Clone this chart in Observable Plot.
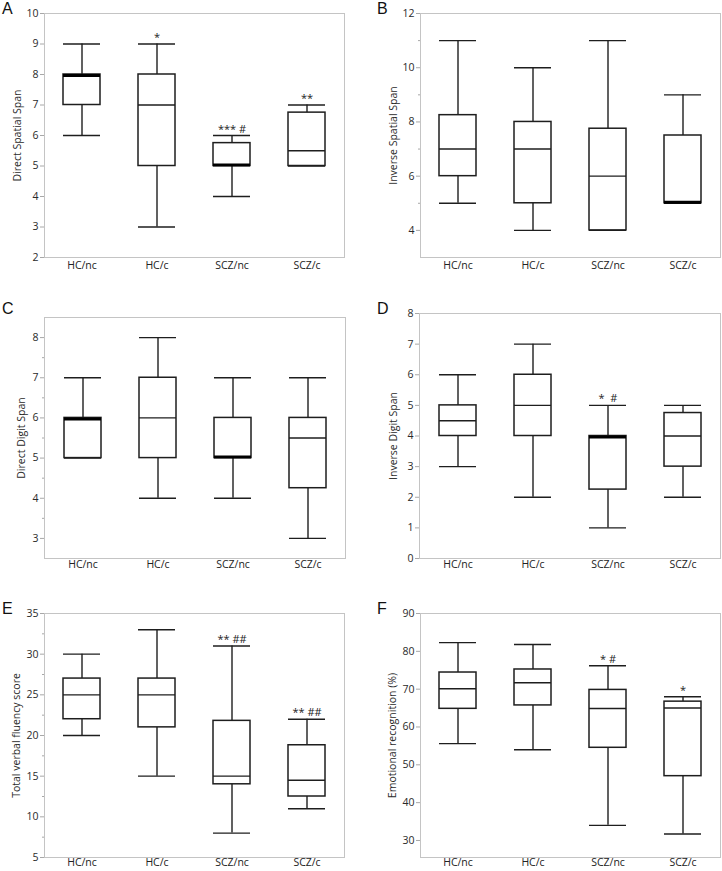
<!DOCTYPE html>
<html>
<head>
<meta charset="utf-8">
<script src="https://cdn.jsdelivr.net/npm/d3@7"></script>
<script src="https://cdn.jsdelivr.net/npm/@observablehq/plot@0.6"></script>
<style>
  html, body { margin: 0; padding: 0; background: white; }
  #fig { position: relative; width: 722px; height: 871px; background: white; overflow: hidden; }
  .panel { position: absolute; }
  .letter { position: absolute; font-family: "Liberation Sans", Arial, sans-serif; font-size: 16px; line-height: 1; color: #111; }
</style>
</head>
<body>
<div id="fig"></div>
<script>
// Groups (x categories)
const groups = ["HC/nc", "HC/c", "SCZ/nc", "SCZ/c"];

// Five-number summaries per group: [min, q1, median, q3, max]
const directSpatial = [[6, 7, 8, 8, 9], [3, 5, 7, 8, 9], [4, 5, 5, 5.75, 6], [5, 5, 5.5, 6.75, 7]];
const directSpatialNotes = ["", "*", "*** #", "**"];
const directSpatialTicks = [2, 3, 4, 5, 6, 7, 8, 9, 10];

const inverseSpatial = [[5, 6, 7, 8.25, 11], [4, 5, 7, 8, 10], [4, 4, 6, 7.75, 11], [5, 5, 5, 7.5, 9]];
const inverseSpatialNotes = ["", "", "", ""];
const inverseSpatialTicks = [4, 6, 8, 10, 12];
const inverseSpatialMinor = [5, 7, 9, 11];

const directDigit = [[5, 5, 6, 6, 7], [4, 5, 6, 7, 8], [4, 5, 5, 6, 7], [3, 4.25, 5.5, 6, 7]];
const directDigitNotes = ["", "", "", ""];
const directDigitTicks = [3, 4, 5, 6, 7, 8];
const directDigitMinor = [3.5, 4.5, 5.5, 6.5, 7.5];

const inverseDigit = [[3, 4, 4.5, 5, 6], [2, 4, 5, 6, 7], [1, 2.25, 4, 4, 5], [2, 3, 4, 4.75, 5]];
const inverseDigitNotes = ["", "", "*  #", ""];
const inverseDigitTicks = [0, 1, 2, 3, 4, 5, 6, 7, 8];

const verbalFluency = [[20, 22, 25, 27, 30], [15, 21, 25, 27, 33], [8, 14, 15, 21.8, 31], [11, 12.5, 14.5, 18.8, 22]];
const verbalFluencyNotes = ["", "", "** ##", "** ##"];
const verbalFluencyTicks = [5, 10, 15, 20, 25, 30, 35];
const verbalFluencyMinor = [7.5, 12.5, 17.5, 22.5, 27.5, 32.5];

const emotionRecog = [[55.6, 64.8, 70.1, 74.4, 82.3], [54, 65.7, 71.7, 75.2, 81.8], [34, 54.5, 64.9, 69.8, 76.2], [31.7, 47, 65, 66.7, 68]];
const emotionRecogNotes = ["", "", "* #", "*"];
const emotionRecogTicks = [30, 40, 50, 60, 70, 80, 90];

const INK = "#1e1e1e";
const AXIS = "#a8a8a8";

function panel(cfg) {
  const rows = groups.map((g, i) => ({
    g, min: cfg.data[i][0], q1: cfg.data[i][1], med: cfg.data[i][2], q3: cfg.data[i][3], max: cfg.data[i][4], note: cfg.notes[i]
  }));
  const medNormal = rows.filter(d => d.med !== d.q1 && d.med !== d.q3);
  const medLow = rows.filter(d => d.med === d.q1);
  const medHigh = rows.filter(d => d.med === d.q3 && d.med !== d.q1);
  const inset = 19;
  const marks = [
    Plot.frame({stroke: "#c4c4c4"})
  ];
  if (cfg.minor) marks.push(Plot.axisY({ticks: cfg.minor, tickSize: 2, text: null, stroke: AXIS, label: null}));
  marks.push(
    Plot.axisY({ticks: cfg.ticks, tickSize: 4, tickPadding: 2, stroke: AXIS, fill: "#2a2a2a", tickFormat: d => String(d),
      label: cfg.label, labelAnchor: "center", labelArrow: "none", labelOffset: cfg.labelOffset}),
    Plot.axisX({tickSize: 0, tickPadding: cfg.xpad, label: null, fill: "#222"}),
    Plot.ruleX(rows, {x: "g", y1: "q3", y2: "max", stroke: INK, strokeWidth: 1.4}),
    Plot.ruleX(rows, {x: "g", y1: "min", y2: "q1", stroke: INK, strokeWidth: 1.4}),
    Plot.tickY(rows, {x: "g", y: "max", insetLeft: inset, insetRight: inset, stroke: INK, strokeWidth: 1.4}),
    Plot.tickY(rows, {x: "g", y: "min", insetLeft: inset, insetRight: inset, stroke: INK, strokeWidth: 1.4}),
    Plot.barY(rows, {x: "g", y1: "q1", y2: "q3", insetLeft: inset, insetRight: inset, fill: "white", stroke: INK, strokeWidth: 1.5}),
    Plot.tickY(medNormal, {x: "g", y: "med", insetLeft: inset, insetRight: inset, stroke: INK, strokeWidth: 1.4}),
    Plot.tickY(medLow, {x: "g", y: "med", dy: -1, insetLeft: inset, insetRight: inset, stroke: "#000", strokeWidth: 3}),
    Plot.tickY(medHigh, {x: "g", y: "med", dy: 1, insetLeft: inset, insetRight: inset, stroke: "#000", strokeWidth: 3}),
    Plot.text(rows.filter(d => d.note), {x: "g", y: "max", text: "note", lineAnchor: "bottom", dy: -3, fontSize: 11, fill: "#222"})
  );
  return Plot.plot({
    width: cfg.width, height: cfg.height,
    marginTop: cfg.mt, marginBottom: cfg.mb, marginLeft: cfg.ml, marginRight: cfg.mr,
    style: {fontFamily: "'Open Sans', 'Noto Sans', sans-serif", fontSize: "10.5px", background: "white", overflow: "visible", color: "#222"},
    x: {domain: groups, padding: 0},
    y: {domain: cfg.domain},
    marks
  });
}

const panels = [
  {letter: "A", left: 0, top: 0, width: 361, height: 285, mt: 13, mb: 28, ml: 44, mr: 17, labelOffset: 31, xpad: 4,
   data: directSpatial, notes: directSpatialNotes, ticks: directSpatialTicks, domain: [2, 10], label: "Direct Spatial Span", lx: 2, ly: 1},
  {letter: "B", left: 361, top: 0, width: 361, height: 285, mt: 13, mb: 28, ml: 59, mr: 2, labelOffset: 31, xpad: 4,
   data: inverseSpatial, notes: inverseSpatialNotes, ticks: inverseSpatialTicks, minor: inverseSpatialMinor, domain: [3, 12], label: "Inverse Spatial Span", lx: 377, ly: 1},
  {letter: "C", left: 0, top: 285, width: 361, height: 290, mt: 32, mb: 17, ml: 44, mr: 16, labelOffset: 27, xpad: 2,
   data: directDigit, notes: directDigitNotes, ticks: directDigitTicks, minor: directDigitMinor, domain: [2.5, 8.5], label: "Direct Digit Span", lx: 2, ly: 301},
  {letter: "D", left: 361, top: 285, width: 361, height: 290, mt: 28, mb: 17, ml: 58, mr: 2, labelOffset: 30, xpad: 2,
   data: inverseDigit, notes: inverseDigitNotes, ticks: inverseDigitTicks, domain: [0, 8], label: "Inverse Digit Span", lx: 377, ly: 301},
  {letter: "E", left: 0, top: 575, width: 361, height: 296, mt: 38, mb: 14, ml: 44, mr: 17, labelOffset: 32, xpad: 1,
   data: verbalFluency, notes: verbalFluencyNotes, ticks: verbalFluencyTicks, minor: verbalFluencyMinor, domain: [5, 35], label: "Total verbal fluency score", lx: 2, ly: 601},
  {letter: "F", left: 361, top: 575, width: 361, height: 296, mt: 38, mb: 14, ml: 59, mr: 2, labelOffset: 32, xpad: 1,
   data: emotionRecog, notes: emotionRecogNotes, ticks: emotionRecogTicks, domain: [25.5, 90], label: "Emotional recognition (%)", lx: 377, ly: 601}
];

const fig = document.getElementById("fig");
for (const p of panels) {
  const div = document.createElement("div");
  div.className = "panel";
  div.style.left = p.left + "px";
  div.style.top = p.top + "px";
  div.appendChild(panel(p));
  fig.appendChild(div);
  const L = document.createElement("div");
  L.className = "letter";
  L.style.left = p.lx + "px";
  L.style.top = p.ly + "px";
  L.textContent = p.letter;
  fig.appendChild(L);
}
</script>
</body>
</html>
